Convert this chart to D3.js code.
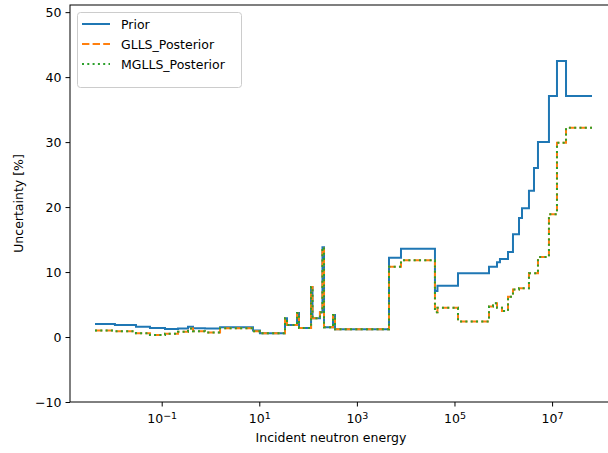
<!DOCTYPE html>
<html>
<head>
<meta charset="utf-8">
<script src="https://cdn.jsdelivr.net/npm/d3@7"></script>
<style>
  body { margin: 0; background: #fff; }
  svg { display: block; font-family: "DejaVu Sans", sans-serif; }
</style>
</head>
<body>
<div id="wrapper"></div>
<script>
// group edges (energy) and uncertainty per group
const energyEdges = [0.0043, 0.011, 0.0297, 0.0575, 0.117, 0.216, 0.346, 0.438, 0.771, 1.57,
  7.43, 10.3, 33.6, 37.0, 59.3, 65.2, 115, 123, 175, 197, 212, 324, 356, 4550, 8010,
  39800, 44800, 118000, 510000, 615000, 743000, 855000, 940000, 1.25e6, 1.58e6, 2.1e6,
  2.42e6, 3.36e6, 4.26e6, 5.14e6, 8.63e6, 1.26e7, 1.93e7, 6.58e7]

const prior = [2.0, 1.85, 1.6, 1.4, 1.25, 1.3, 1.6, 1.35, 1.3, 1.5, 1.0, 0.57, 2.9, 1.85,
  3.7, 1.4, 7.7, 2.9, 3.8, 13.8, 1.5, 3.4, 1.2, 12.2, 13.6, 7.1, 7.9, 9.8, 10.8, 10.8,
  11.5, 12.0, 12.0, 13.1, 15.8, 18.3, 19.8, 22.5, 26.0, 30.0, 37.1, 42.5, 37.1]

const gllsPosterior = [1.0, 0.9, 0.6, 0.3, 0.5, 0.8, 1.3, 0.9, 0.7, 1.35, 0.9, 0.57, 2.9, 1.85,
  3.7, 1.4, 7.7, 2.9, 3.8, 13.8, 1.5, 3.4, 1.2, 10.8, 11.8, 3.8, 4.5, 2.4, 4.7, 5.2,
  4.5, 4.5, 4.0, 6.2, 7.3, 7.5, 7.5, 9.8, 9.8, 12.3, 18.9, 29.9, 32.2]

const mgllsPosterior = [1.0, 0.9, 0.6, 0.3, 0.5, 0.8, 1.3, 0.9, 0.7, 1.35, 0.9, 0.57, 2.9, 1.85,
  3.7, 1.4, 7.7, 2.9, 3.8, 13.8, 1.5, 3.4, 1.2, 10.8, 11.8, 3.8, 4.5, 2.4, 4.7, 5.2,
  4.5, 4.5, 4.0, 6.2, 7.3, 7.5, 7.5, 9.8, 9.8, 12.3, 18.9, 29.9, 32.2]

const xTickValues = [1e-1, 1e1, 1e3, 1e5, 1e7]
const yTickValues = [-10, 0, 10, 20, 30, 40, 50]

const seriesList = [
  { name: 'Prior', values: prior, color: '#1f77b4', dash: null },
  { name: 'GLLS_Posterior', values: gllsPosterior, color: '#ff7f0e', dash: '7.4,3.2' },
  { name: 'MGLLS_Posterior', values: mgllsPosterior, color: '#2ca02c', dash: '2,3.3' },
]

const width = 608
const height = 453
const plotLeft = 70
const plotRight = 617
const plotTop = 5
const plotBottom = 402

const svg = d3.select('#wrapper').append('svg')
  .attr('width', width)
  .attr('height', height)

const x = d3.scaleLog().domain([1.321e-3, 2.14e8]).range([plotLeft, plotRight])
const y = d3.scaleLinear().domain([-10, 51.1]).range([plotBottom, plotTop])

svg.append('defs').append('clipPath').attr('id', 'plotclip')
  .append('rect').attr('x', plotLeft).attr('y', plotTop)
  .attr('width', plotRight - plotLeft).attr('height', plotBottom - plotTop)

// step lines
const stepLine = d3.line()
  .x(d => x(d[0]))
  .y(d => y(d[1]))
  .curve(d3.curveStepAfter)

const plot = svg.append('g').attr('clip-path', 'url(#plotclip)')
seriesList.forEach(s => {
  const pts = s.values.map((v, i) => [energyEdges[i], v])
  pts.push([energyEdges[energyEdges.length - 1], s.values[s.values.length - 1]])
  plot.append('path')
    .datum(pts)
    .attr('d', stepLine)
    .attr('fill', 'none')
    .attr('stroke', s.color)
    .attr('stroke-width', 2)
    .attr('stroke-dasharray', s.dash)
})

// axes
const xAxis = svg.append('g')
  .attr('transform', 'translate(0,' + plotBottom + ')')
  .call(d3.axisBottom(x).tickValues(xTickValues).tickSize(4.5).tickPadding(8).tickFormat(() => ''))
xAxis.selectAll('.tick text').each(function (d) {
  const t = d3.select(this)
  const p = Math.round(Math.log10(d))
  t.append('tspan').text('10')
  t.append('tspan').attr('dy', '-0.5em').attr('font-size', '9.5px')
    .text(String(p).replace('-', '\u2212'))
})

const yAxis = svg.append('g')
  .attr('transform', 'translate(' + plotLeft + ',0)')
  .call(d3.axisLeft(y).tickValues(yTickValues).tickSize(4.5).tickPadding(4)
    .tickFormat(d => String(d).replace('-', '\u2212')))

svg.selectAll('.tick text').attr('font-size', '12.5px').attr('fill', '#000')
  .attr('font-family', '"DejaVu Sans", sans-serif')
svg.selectAll('.tick line').attr('stroke', '#000').attr('stroke-width', 1)
svg.selectAll('.domain').remove()

// spines
svg.append('rect')
  .attr('x', plotLeft).attr('y', plotTop)
  .attr('width', plotRight - plotLeft).attr('height', plotBottom - plotTop)
  .attr('fill', 'none').attr('stroke', '#000').attr('stroke-width', 1)

// axis labels
svg.append('text')
  .attr('x', 331).attr('y', 442)
  .attr('text-anchor', 'middle')
  .attr('font-size', '12.5px')
  .text('Incident neutron energy')

svg.append('text')
  .attr('transform', 'translate(23,' + ((plotTop + plotBottom) / 2) + ') rotate(-90)')
  .attr('text-anchor', 'middle')
  .attr('font-size', '12.5px')
  .text('Uncertainty [%]')

// legend
const legend = svg.append('g')
legend.append('rect')
  .attr('x', 77.5).attr('y', 12.5).attr('width', 164).attr('height', 75)
  .attr('rx', 3)
  .attr('fill', '#fff').attr('fill-opacity', 0.8)
  .attr('stroke', '#ccc').attr('stroke-width', 1)

seriesList.forEach((s, i) => {
  const ly = 24 + i * 20
  legend.append('line')
    .attr('x1', 82).attr('x2', 110).attr('y1', ly).attr('y2', ly)
    .attr('stroke', s.color).attr('stroke-width', 2)
    .attr('stroke-dasharray', s.dash)
  legend.append('text')
    .attr('x', 121).attr('y', ly + 4.5)
    .attr('font-size', '12.5px')
    .text(s.name)
})
</script>
</body>
</html>
